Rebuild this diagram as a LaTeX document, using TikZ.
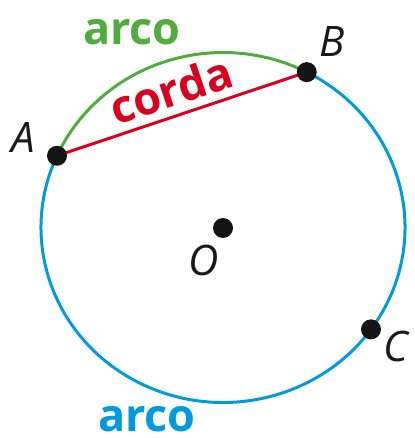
\documentclass[tikz,border=0pt]{standalone}
\usepackage{fontspec}
\setmainfont{Open Sans}
\usetikzlibrary{calc}
\definecolor{arcgreen}{RGB}{80,172,60}
\definecolor{arcblue}{RGB}{0,155,220}
\definecolor{chordred}{RGB}{218,0,30}
\begin{document}
\begin{tikzpicture}[x=1pt,y=-1pt,
  dot/.style={circle,fill=black!92,inner sep=0pt,minimum size=20pt},
  ptlabel/.style={font=\fontsize{42}{42}\selectfont\itshape,inner sep=0pt,text=black!90},
  bigword/.style={font=\fontsize{45}{45}\selectfont\bfseries,inner sep=0pt},
  curve/.style={line width=3pt}]
\useasboundingbox (0,0) rectangle (414,438);
\coordinate (Oc) at (223,227.5);
\coordinate (A) at ($(Oc)+(-155.8:182 and 175)$);
\coordinate (B) at ($(Oc)+(-62.6:182 and 175)$);
\coordinate (C) at ($(Oc)+(35.6:182 and 175)$);
% arcs
\draw[curve,arcblue] (B) arc[start angle=-62.6,end angle=204.2,x radius=182,y radius=175];
\draw[curve,arcgreen] (B) arc[start angle=-62.6,end angle=-155.8,x radius=182,y radius=175];
% chord
\draw[curve,chordred] (A) -- (B);
\path (A) -- (B) node[midway,sloped,above=9pt,bigword,text=chordred,xshift=-3pt] (corda) {corda};
% dots
\node[dot] (dA) at (A) {};
\node[dot] (dB) at (B) {};
\node[dot] (dC) at (C) {};
\node[dot] (dO) at (223,228) {};
% labels
\node[ptlabel] (lA) at (23,138) {A};
\node[ptlabel] (lB) at (332,42) {B};
\node[ptlabel] (lO) at (204,260) {O};
\node[ptlabel] (lC) at (396,346) {C};
\node[bigword,text=arcgreen,anchor=base] (arcoT) at (132,45) {arco};
\node[bigword,text=arcblue,anchor=base] (arcoB) at (147,431) {arco};
\end{tikzpicture}
\end{document}
